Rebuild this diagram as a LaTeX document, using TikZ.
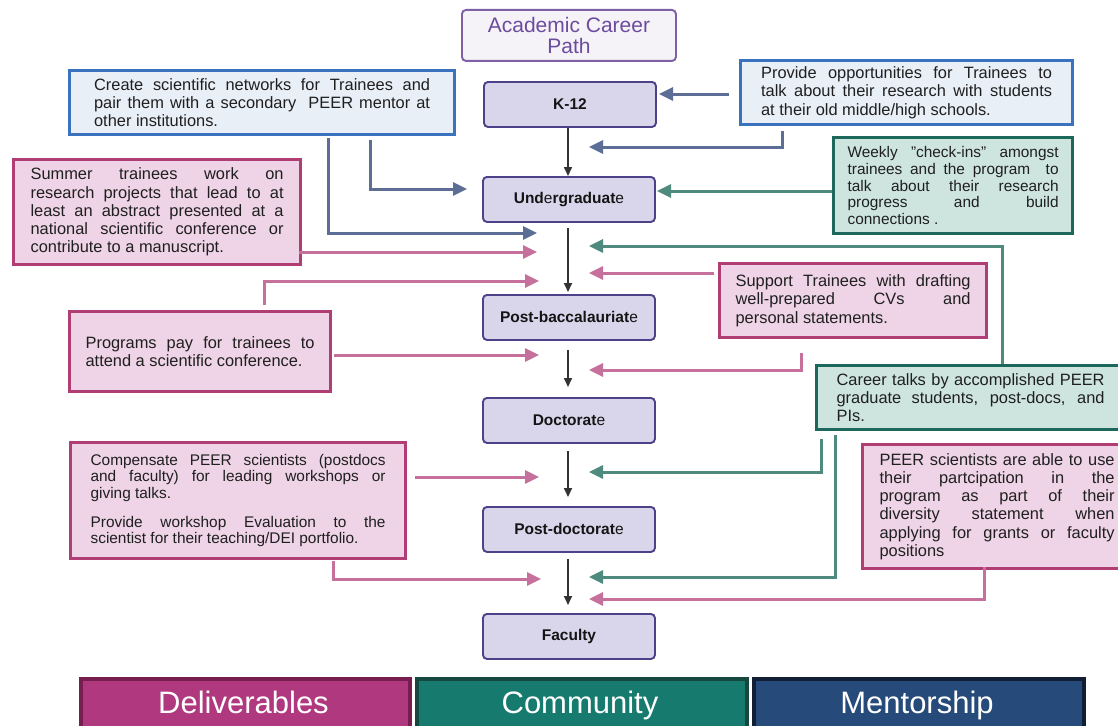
\documentclass[tikz,border=0pt]{standalone}
\usepackage{fontspec}
\setmainfont{Liberation Sans}
\usetikzlibrary{arrows.meta}
\definecolor{pinkfill}{RGB}{238,212,230}
\definecolor{pinkdraw}{RGB}{176,62,116}
\definecolor{pinkline}{RGB}{198,112,156}
\definecolor{bluefill}{RGB}{233,239,247}
\definecolor{bluedraw}{RGB}{58,114,190}
\definecolor{blueline}{RGB}{92,109,150}
\definecolor{greenfill}{RGB}{206,229,223}
\definecolor{greendraw}{RGB}{28,104,90}
\definecolor{greenline}{RGB}{78,138,126}
\definecolor{stagefill}{RGB}{217,214,235}
\definecolor{stagedraw}{RGB}{76,66,138}
\definecolor{titlefill}{RGB}{245,242,248}
\definecolor{titledraw}{RGB}{126,96,164}
\definecolor{titletext}{RGB}{108,76,158}
\definecolor{delfill}{RGB}{176,56,126}
\definecolor{deldraw}{RGB}{118,30,80}
\definecolor{comfill}{RGB}{22,122,110}
\definecolor{comdraw}{RGB}{22,72,64}
\definecolor{menfill}{RGB}{38,74,122}
\definecolor{mendraw}{RGB}{18,30,52}
\definecolor{darkline}{RGB}{51,51,51}
\tolerance=10000
\hyphenpenalty=10000
\exhyphenpenalty=10000
\newcommand{\mainsize}{\fontsize{16.4}{18.2}\selectfont}
\newcommand{\smallsize}{\fontsize{15.4}{16.7}\selectfont}
\begin{document}
\begin{tikzpicture}[x=1pt,y=-1pt,
  textbox/.style={line width=3.2pt, anchor=north west, align=justify, inner xsep=0pt, inner ysep=0pt, font=\mainsize, text=black!88},
  pinkbox/.style={textbox, draw=pinkdraw, fill=pinkfill},
  bluebox/.style={textbox, draw=bluedraw, fill=bluefill},
  greenbox/.style={textbox, draw=greendraw, fill=greenfill},
  stagebox/.style={draw=stagedraw, fill=stagefill, line width=1.9pt, rounded corners=4pt, anchor=north west, minimum width=172pt, minimum height=45pt, font=\fontsize{15.5}{18}\selectfont, text=black!92},
  legendbox/.style={line width=3.5pt, anchor=north west, minimum height=70pt},
  legendtext/.style={anchor=base, text=white, font=\fontsize{31}{34}\selectfont},
  conn/.style={line width=3pt, -{Triangle[length=14pt,width=13pt]}},
  pinkconn/.style={conn, draw=pinkline, color=pinkline},
  blueconn/.style={conn, draw=blueline, color=blueline},
  greenconn/.style={conn, draw=greenline, color=greenline},
  stageconn/.style={line width=1.6pt, draw=darkline, -{Triangle[length=9pt,width=8pt]}}
]
\useasboundingbox (0,0) rectangle (1118,725);
\clip (0,0) rectangle (1118,725);
\fill[white] (0,0) rectangle (1118,725);

% title
\node[draw=titledraw, fill=titlefill, line width=1.9pt, rounded corners=4pt, anchor=north west,
  minimum width=214pt, minimum height=51pt, align=center, text=titletext,
  font=\fontsize{21}{21}\selectfont, inner sep=0pt] (title) at (461,9) {Academic Career\\Path};

% stages
\node[stagebox] (k12) at (483,81) {\textbf{K-12}};
\node[stagebox] (ug) at (482,176) {\textbf{Und}e\textbf{rgraduat}e};
\node[stagebox] (pb) at (482,294) {\textbf{Post-baccalauriat}e};
\node[stagebox] (doc) at (482,397) {\textbf{Doctorat}e};
\node[stagebox] (pd) at (482,506) {\textbf{Post-doctorat}e};
\node[stagebox] (fac) at (482,613) {\textbf{Faculty}};

% text boxes
\node[bluebox, minimum width=385pt, minimum height=64pt, text width=336pt] (netw) at (68,69)
 {Create scientific networks for Trainees and\linebreak pair them with a secondary \ PEER mentor at\linebreak other institutions.};
\node[bluebox, minimum width=332pt, minimum height=64pt, text width=291pt] (opp) at (739,59)
 {Provide opportunities for Trainees to\linebreak talk about their research with students\linebreak at their old middle/high schools.};
\node[greenbox, font=\smallsize, minimum width=239pt, minimum height=96pt, text width=211pt] (week) at (832,136)
 {Weekly \symbol{34}check-ins\symbol{34} amongst\linebreak trainees and the program \ to\linebreak talk about their research\linebreak progress and build\linebreak connections .};
\node[pinkbox, minimum width=287pt, minimum height=105pt, text width=253pt] (summer) at (12,158)
 {Summer trainees work on\linebreak research projects that lead to at\linebreak least an abstract presented at a\linebreak national scientific conference or\linebreak contribute to a manuscript.};
\node[pinkbox, minimum width=261pt, minimum height=80pt, text width=229pt] (conf) at (68,310)
 {Programs pay for trainees to\linebreak attend a scientific conference.};
\node[pinkbox, minimum width=267pt, minimum height=74pt, text width=235pt] (cv) at (718,262)
 {Support Trainees with drafting\linebreak well-prepared CVs and\linebreak personal statements.};
\node[greenbox, minimum width=308pt, minimum height=64pt, text width=268pt] (talks) at (815,364)
 {Career talks by accomplished PEER\linebreak graduate students, post-docs, and\linebreak PIs.};
\node[pinkbox, minimum width=269pt, minimum height=124pt, text width=235pt] (div) at (861,443)
 {PEER scientists are able to use\linebreak their partcipation in the\linebreak program as part of their\linebreak diversity statement when\linebreak applying for grants or faculty\linebreak positions};
\node[pinkbox, font=\smallsize, minimum width=335pt, minimum height=116pt, text width=295pt] (comp) at (69,441)
 {Compensate PEER scientists (postdocs\linebreak and faculty) for leading workshops or\linebreak giving talks.\par\vspace{12pt}
  Provide workshop Evaluation to the\linebreak scientist for their teaching/DEI portfolio.};

% legend
\node[legendbox, draw=deldraw, fill=delfill, minimum width=329pt] (deliv) at (79,677) {};
\node[legendtext] (delivt) at (243.5,713) {Deliverables};
\node[legendbox, draw=comdraw, fill=comfill, minimum width=330pt] (comm) at (415,677) {};
\node[legendtext] (commt) at (580,713) {Community};
\node[legendbox, draw=mendraw, fill=menfill, minimum width=330pt] (ment) at (752,677) {};
\node[legendtext] (mentt) at (917,713) {Mentorship};

% stage arrows
\coordinate (s1a) at (568,228); \coordinate (s1b) at (568,292);
\coordinate (s2a) at (568,350); \coordinate (s2b) at (568,387);
\coordinate (s3a) at (568,451); \coordinate (s3b) at (568,497);
\coordinate (s4a) at (568,559); \coordinate (s4b) at (568,605);
\draw[stageconn] (k12.south -| 568,0) -- (ug.north -| 568,0);
\draw[stageconn] (s1a) -- (s1b);
\draw[stageconn] (s2a) -- (s2b);
\draw[stageconn] (s3a) -- (s3b);
\draw[stageconn] (s4a) -- (s4b);

% blue connectors
\coordinate (b1s) at (328,138); \coordinate (b1e) at (537,233);
\draw[blueconn] (b1s) |- (b1e);
\coordinate (b2s) at (370,140);
\draw[blueconn] (b2s) |- (467,189);
\coordinate (b3s) at (729,94); \coordinate (b3e) at (659,94);
\draw[blueconn] (b3s) -- (b3e);
\coordinate (b4s) at (782,131); \coordinate (b4e) at (589,147);
\draw[blueconn] (b4s) |- (b4e);

% green connectors
\coordinate (g1s) at (832,191); \coordinate (g1e) at (657,191);
\draw[greenconn] (g1s) -- (g1e);
\coordinate (g2s) at (1002,364); \coordinate (g2e) at (589,246);
\draw[greenconn] (g2s) |- (g2e);
\coordinate (g3s) at (821,439); \coordinate (g3e) at (589,472);
\draw[greenconn] (g3s) |- (g3e);
\coordinate (g4s) at (835,435); \coordinate (g4e) at (589,577);
\draw[greenconn] (g4s) |- (g4e);

% pink connectors
\coordinate (p1s) at (299,252); \coordinate (p1e) at (537,252);
\draw[pinkconn] (p1s) -- (p1e);
\coordinate (p2s) at (264,305); \coordinate (p2e) at (539,281);
\draw[pinkconn] (p2s) |- (p2e);
\coordinate (p3s) at (334,355); \coordinate (p3e) at (539,355);
\draw[pinkconn] (p3s) -- (p3e);
\coordinate (p4s) at (714,273); \coordinate (p4e) at (589,273);
\draw[pinkconn] (p4s) -- (p4e);
\coordinate (p5s) at (801,353); \coordinate (p5e) at (589,370);
\draw[pinkconn] (p5s) |- (p5e);
\coordinate (p6s) at (415,477); \coordinate (p6e) at (539,477);
\draw[pinkconn] (p6s) -- (p6e);
\coordinate (p7s) at (333,561); \coordinate (p7e) at (541,579);
\draw[pinkconn] (p7s) |- (p7e);
\coordinate (p8s) at (984,567); \coordinate (p8e) at (589,599);
\draw[pinkconn] (p8s) |- (p8e);
\end{tikzpicture}
\end{document}
